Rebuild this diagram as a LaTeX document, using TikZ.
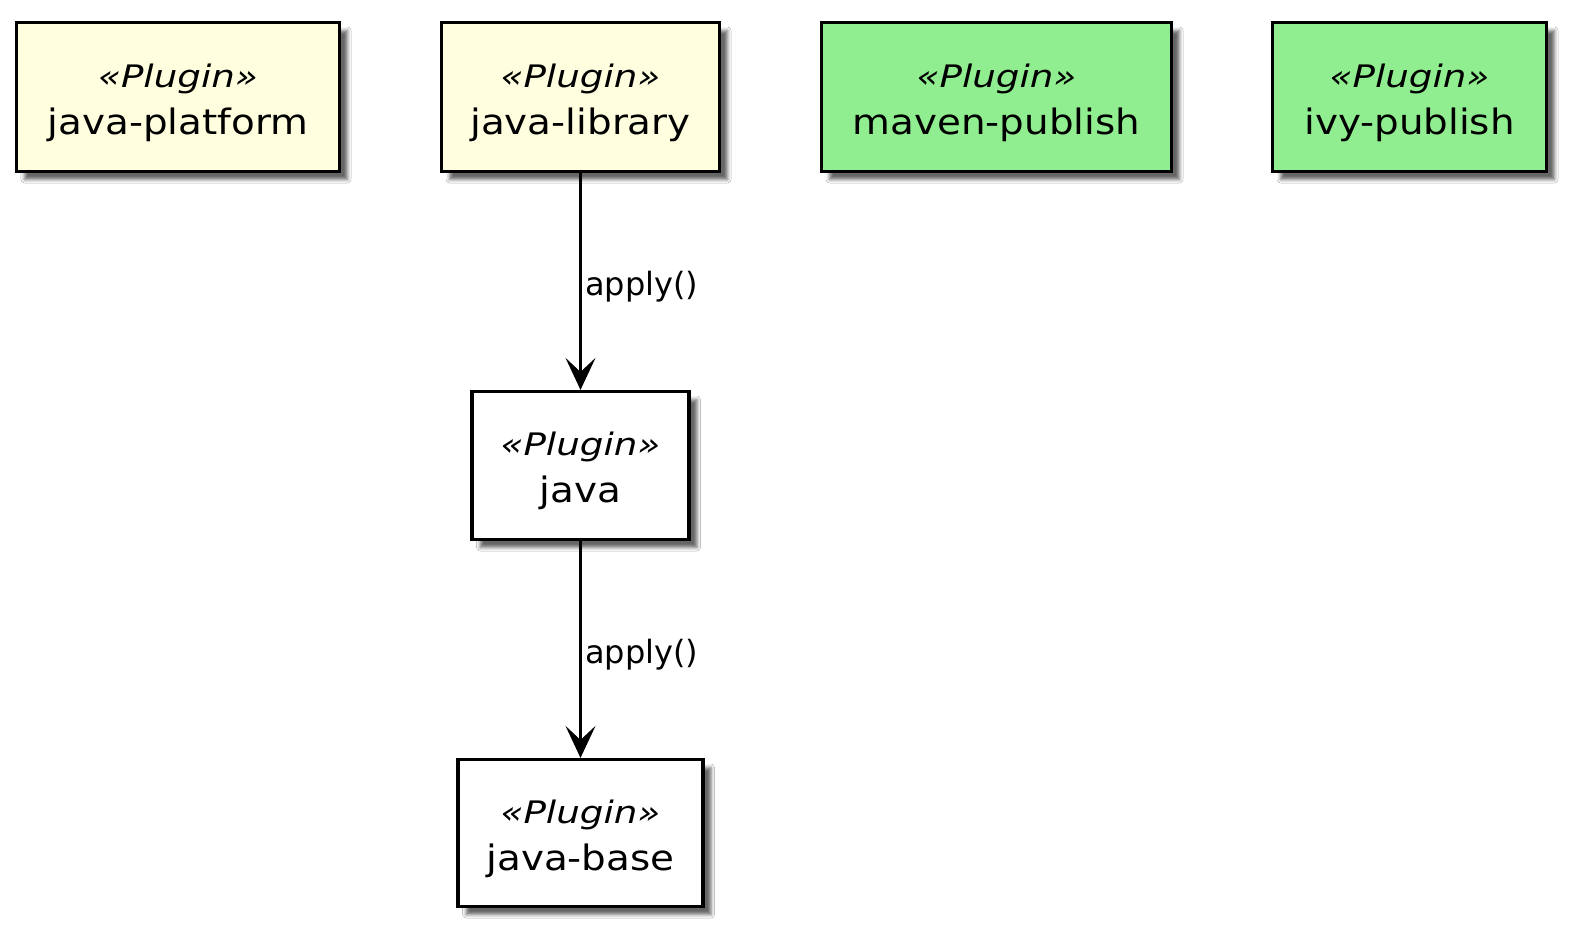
\documentclass[tikz,border=0pt]{standalone}
\usepackage{fontspec}
\setmainfont{DejaVu Sans}[FakeStretch=1.11]
\newfontfamily\stereofont{DejaVu Sans}[FakeStretch=1.2]
\newfontfamily\labelfont{DejaVu Sans}[FakeStretch=1.0]
\usetikzlibrary{arrows.meta,shadows.blur}
\definecolor{plyellow}{RGB}{255,255,224}
\definecolor{plgreen}{RGB}{144,238,144}
\tikzset{
  plbox/.style={draw=black, line width=3.2bp, rectangle, inner sep=0pt,
    blur shadow={shadow xshift=8bp, shadow yshift=-8bp, shadow blur radius=3.5bp, shadow opacity=60}},
  stereo/.style={anchor=base, inner sep=0pt, font=\stereofont\itshape\fontsize{31bp}{34bp}\selectfont},
  pname/.style={anchor=base, inner sep=0pt, font=\fontsize{35bp}{40bp}\selectfont},
  elabel/.style={anchor=base west, inner sep=0pt, font=\labelfont\fontsize{32bp}{36bp}\selectfont},
  conn/.style={draw=black, line width=2.2bp, -{Stealth[length=32bp, width=30bp, inset=14bp]}}
}
\begin{document}
\begin{tikzpicture}[x=1bp,y=-1bp]
\useasboundingbox[fill=white] (0,0) rectangle (1575,937);
% boxes
\node[plbox, fill=plyellow, minimum width=323bp, minimum height=149bp] (jp) at (178,97) {};
\node[plbox, fill=plyellow, minimum width=278bp, minimum height=149bp] (jl) at (580.5,97) {};
\node[plbox, fill=plgreen, minimum width=350bp, minimum height=149bp] (mp) at (996.5,97) {};
\node[plbox, fill=plgreen, minimum width=274bp, minimum height=149bp] (ip) at (1409.5,97) {};
\node[plbox, fill=white, minimum width=217bp, minimum height=148bp] (java) at (580.5,465.5) {};
\node[plbox, fill=white, minimum width=245bp, minimum height=147bp] (jb) at (580.5,833) {};
% texts
\foreach \b/\t in {jp/java-platform, jl/java-library, mp/maven-publish, ip/ivy-publish, java/java, jb/java-base}{
  \node[stereo] (\b-s) at ([yshift=10bp]\b.center) {«Plugin»};
  \node[pname] (\b-n) at ([yshift=-37bp]\b.center) {\t};
}
% connectors
\draw[conn] (jl.south) -- (java.north);
\draw[conn] (java.south) -- (jb.north);
\node[elabel] (l1) at (585,295) {apply()};
\node[elabel] (l2) at (585,663) {apply()};
\end{tikzpicture}
\end{document}
